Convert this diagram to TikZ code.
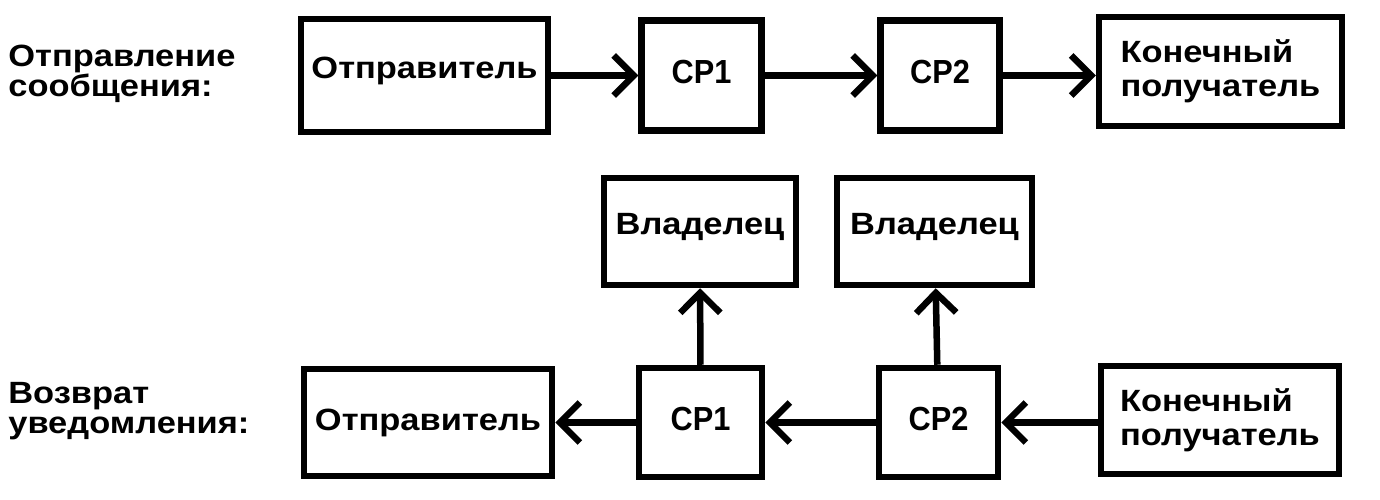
\documentclass[tikz,border=0pt]{standalone}
\usepackage{fontspec}
\setmainfont{Liberation Sans}[FakeStretch=1.12]
\newfontfamily\cpfont{Liberation Sans}[FakeStretch=0.92]
\usepackage{tikz}
\usetikzlibrary{arrows.meta}

\tikzset{
	frame/.style={draw, line width=0.13cm, inner sep=0pt, minimum height=2.2cm,
		font=\fontsize{17.5}{19.3}\selectfont\bfseries},
	oneline/.style={frame, text height=#1, text depth=0.3cm},
	oneline/.default=0.42cm,
	cpbox/.style={frame, minimum width=2.4cm, minimum height=2.2cm,
		font=\cpfont\fontsize{19}{21}\selectfont\bfseries, text height=0.62cm, text depth=0.3cm},
	twoline/.style={frame, align=left},
	rowlabel/.style={anchor=north west, align=left, inner sep=0pt,
		font=\fontsize{17.5}{17}\selectfont\bfseries},
	flow/.style={line width=0.13cm, -{Straight Barb[length=0.4cm, width=0.8cm]}}
}

\begin{document}
\begin{tikzpicture}
		\useasboundingbox (0,0) rectangle (27.6,9.98);
		%row labels
		\node[rowlabel] (sendlbl) at (0.16,9.08) {Отправление\\сообщения:};
		\node[rowlabel] (backlbl) at (0.16,2.34) {Возврат\\уведомления:};
		
		%sending the message
		\node[oneline, minimum width=4.94cm, minimum height=2.26cm] (snd) at (8.49,8.47) {Отправитель};
		\node[cpbox] (cpa) at (14.03,8.47) {СР1};
		\node[cpbox, minimum width=2.38cm] (cpb) at (18.80,8.47) {СР2};
		\node[twoline, minimum width=4.86cm, minimum height=2.18cm] (rcv) at (24.41,8.55) {Конечный\\получатель};
		
		%owners
		\node[oneline=0.4cm, minimum width=3.84cm, minimum height=2.14cm] (owna) at (14.00,5.35) {Владелец};
		\node[oneline=0.4cm, minimum width=3.90cm, minimum height=2.14cm] (ownb) at (18.69,5.35) {Владелец};
		
		%returning the notice
		\node[oneline=0.6cm, minimum width=4.96cm, minimum height=2.14cm] (sndb) at (8.56,1.53) {Отправитель};
		\node[cpbox, minimum width=2.46cm, minimum height=2.18cm] (cpc) at (14.01,1.53) {СР1};
		\node[cpbox, minimum width=2.38cm, minimum height=2.18cm] (cpd) at (18.77,1.53) {СР2};
		\node[twoline, minimum width=4.76cm, minimum height=2.16cm] (rcvb) at (24.40,1.58) {Конечный\\получатель};
		
		%arrows
		\draw[flow] (snd) -- (cpa);
		\draw[flow] (cpa) -- (cpb);
		\draw[flow] (cpb) -- (cpb -| rcv.west);
		\draw[flow] (rcvb.west |- cpd) -- (cpd);
		\draw[flow] (cpd) -- (cpc);
		\draw[flow] (cpc) -- (sndb);
		\draw[flow] (cpc) -- (owna);
		\draw[flow] (cpd) -- (ownb);
	\end{tikzpicture}
\end{document}
